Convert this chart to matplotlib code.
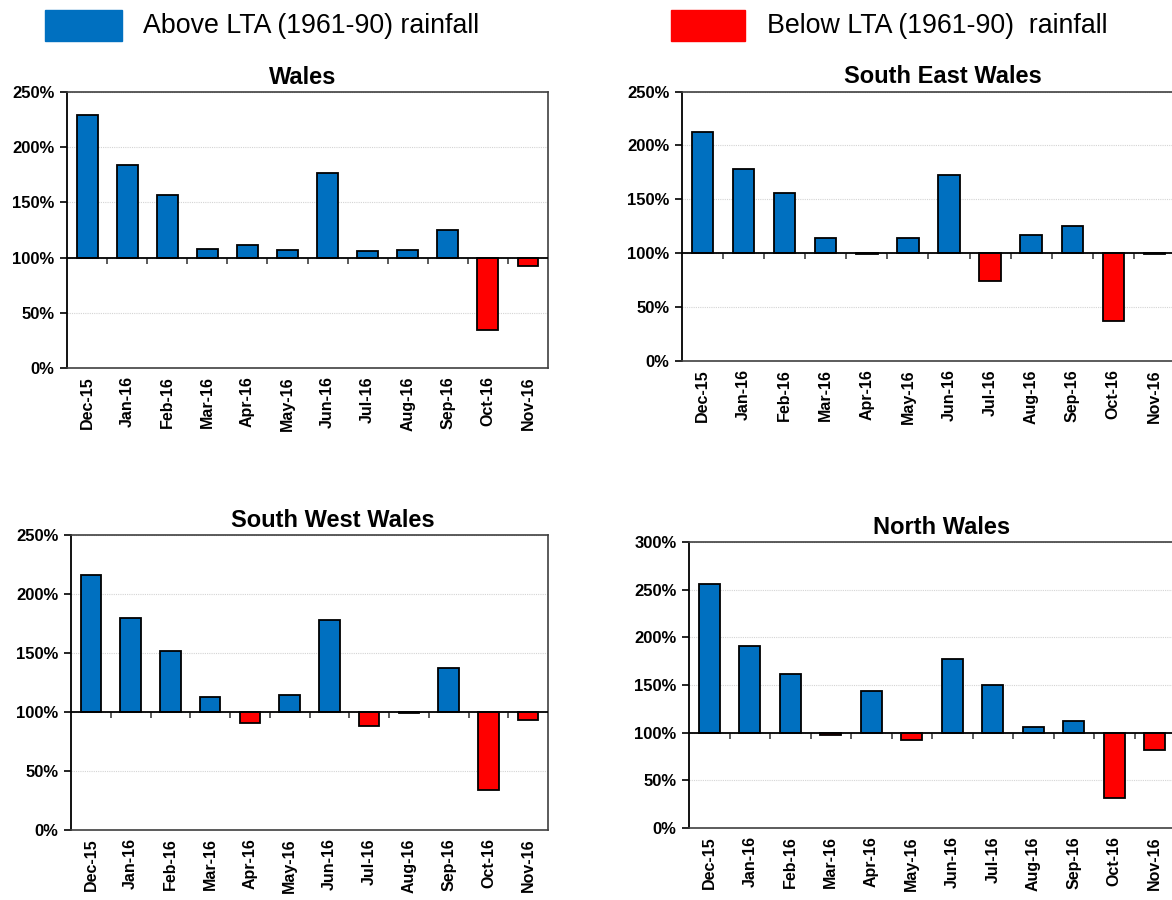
import matplotlib.pyplot as plt
from matplotlib.patches import Rectangle
from matplotlib.ticker import FuncFormatter, MultipleLocator

plt.rcParams['font.family'] = ['Liberation Sans', 'DejaVu Sans']

months = ['Dec-15', 'Jan-16', 'Feb-16', 'Mar-16', 'Apr-16', 'May-16',
          'Jun-16', 'Jul-16', 'Aug-16', 'Sep-16', 'Oct-16', 'Nov-16']

# rainfall as % of the 1961-90 long term average
wales = [229, 184, 157, 108, 111, 107, 177, 106, 107, 125, 34, 92]
south_east = [212, 178, 156, 114, 99, 114, 173, 74, 117, 125, 37, 99.5]
south_west = [216, 180, 152, 113, 91, 114, 178, 88, 99, 137, 34, 93]
north = [256, 191, 162, 98, 144, 92, 177, 150, 106, 112, 31, 82]

BLUE = '#0070C0'
RED = '#FF0000'
LTA = 100

# name, values, y max, [left, bottom, width, height], title x (axes fraction)
panels = [
    ('Wales', wales, 250, [0.0572, 0.5911, 0.4104, 0.3067], 0.49),
    ('South East Wales', south_east, 250, [0.5819, 0.5989, 0.4206, 0.2994], 0.53),
    ('South West Wales', south_west, 250, [0.0606, 0.0778, 0.4070, 0.3278], 0.548),
    ('North Wales', north, 300, [0.5879, 0.0800, 0.4147, 0.3178], 0.52),
]

fig = plt.figure(figsize=(11.72, 9), dpi=100)


def draw_panel(name, values, ymax, rect, title_x):
    ax = fig.add_axes(rect)
    x = list(range(len(months)))
    heights = [v - LTA for v in values]
    colors = [BLUE if v >= LTA else RED for v in values]
    ax.bar(x, heights, bottom=LTA, width=0.52, color=colors,
           edgecolor='black', linewidth=1.3, zorder=3)
    ax.axhline(LTA, color='black', lw=1.3, zorder=4)

    ax.set_xlim(-0.5, len(months) - 0.5)
    ax.set_ylim(0, ymax)
    ax.yaxis.set_major_locator(MultipleLocator(50))
    ax.yaxis.set_major_formatter(FuncFormatter(lambda v, p: '%d%%' % v))
    ax.grid(axis='y', color='#D4D4D4', lw=0.8, ls=(0, (1, 1)), zorder=0)

    ax.set_xticks(x)
    ax.set_xticklabels(months, rotation=90, fontweight='bold', fontsize=11.5)
    ax.tick_params(axis='x', length=0, pad=6)
    ax.tick_params(axis='y', length=5, width=1.2, direction='out',
                   labelsize=12, pad=4)
    for lab in ax.get_yticklabels():
        lab.set_fontweight('bold')

    for side in ['top', 'right', 'bottom']:
        ax.spines[side].set_color('#404040')
        ax.spines[side].set_linewidth(1.2)
    ax.spines['left'].set_color('black')
    ax.spines['left'].set_linewidth(1.3)

    # category boundary ticks hanging below the 100% line
    sec = ax.secondary_xaxis(LTA / ymax)
    sec.set_xticks([i + 0.5 for i in range(len(months) - 1)])
    sec.set_xticklabels([])
    sec.tick_params(length=4, width=1.2, direction='out', color='#404040')
    sec.spines['bottom'].set_visible(False)

    ax.set_title(name, x=title_x, fontsize=17, fontweight='bold', pad=6)
    return ax


for name, values, ymax, rect, tx in panels:
    draw_panel(name, values, ymax, rect, tx)

# legend along the top
fig.patches.append(Rectangle((0.0384, 0.9544), 0.0657, 0.0344,
                             transform=fig.transFigure, color=BLUE))
fig.patches.append(Rectangle((0.5725, 0.9544), 0.0631, 0.0344,
                             transform=fig.transFigure, color=RED))
fig.text(0.122, 0.971, 'Above LTA (1961-90) rainfall', fontsize=19.3,
         va='center', ha='left')
fig.text(0.6544, 0.971, 'Below LTA (1961-90)  rainfall', fontsize=19.3,
         va='center', ha='left')

fig.savefig('out.png', dpi=100)
